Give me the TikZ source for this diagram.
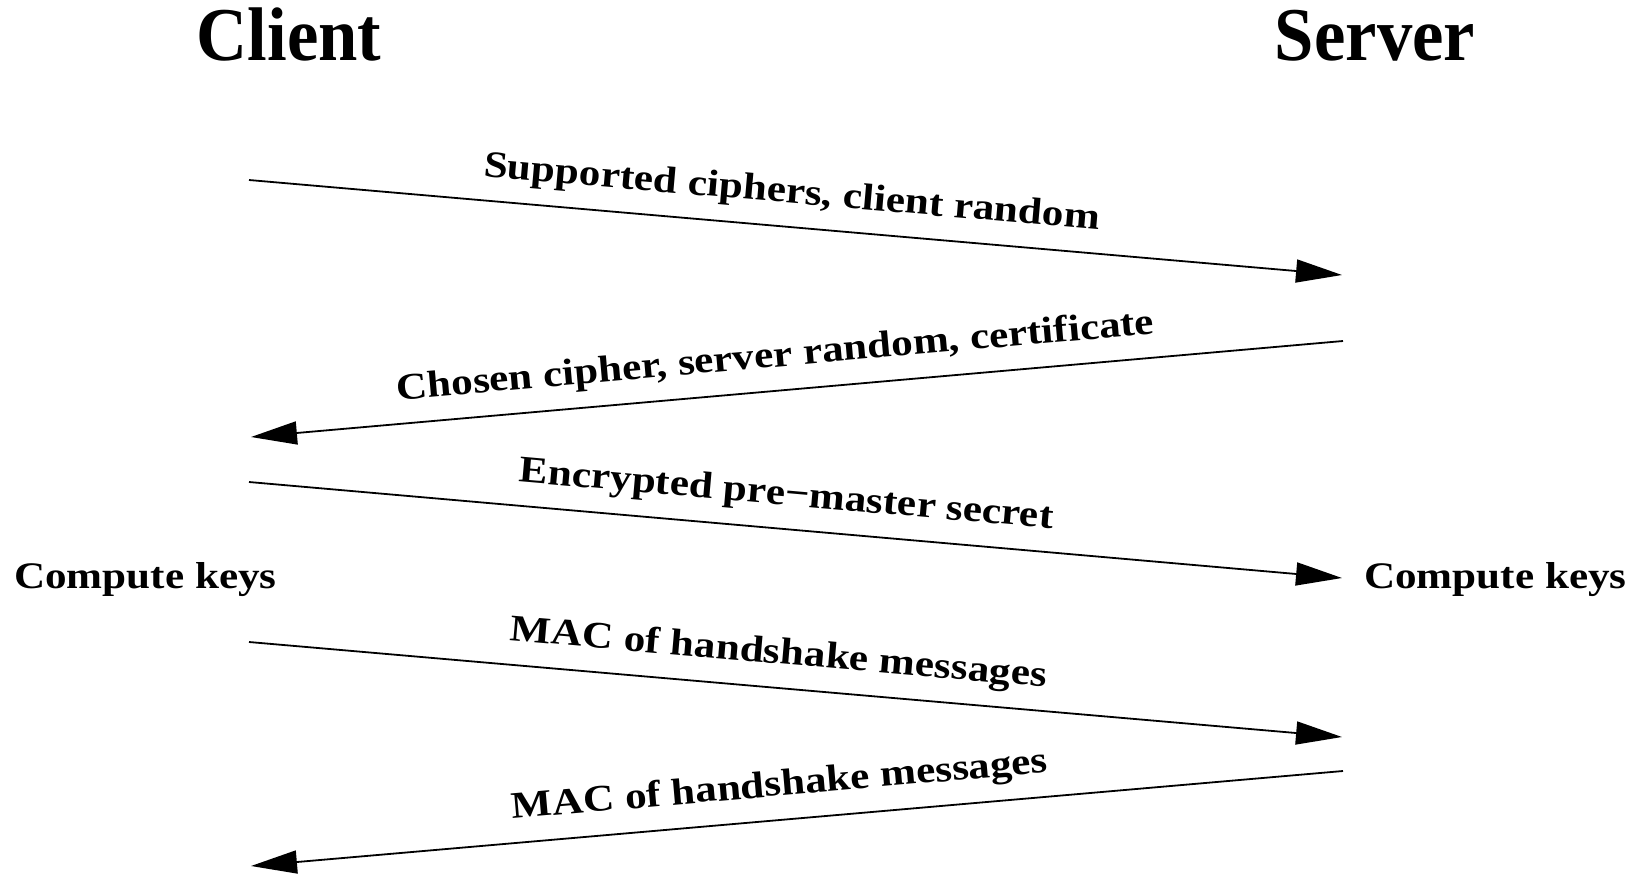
\documentclass[tikz,border=0pt]{standalone}
\usepackage{fontspec}
\setmainfont{Liberation Serif}
\newfontfamily\widefont[FakeStretch=1.15]{Liberation Serif}
\newfontfamily\titlefont[FakeStretch=0.93]{Liberation Serif}
\usetikzlibrary{arrows.meta}
\begin{document}
\begin{tikzpicture}[x=1pt,y=-1pt,
  msg/.style={line width=1.8pt,-{Triangle[length=46pt,width=23pt]}},
  title/.style={inner sep=0,anchor=base,font=\titlefont\fontsize{76}{80}\selectfont\bfseries},
  lab/.style={inner sep=0,font=\widefont\fontsize{37.5}{42}\selectfont\bfseries},
  mlab/.style={lab,sloped,above=15pt}]
\useasboundingbox (0,0) rectangle (1638,876);
\node[title] (client) at (289,60) {Client};
\node[title] (server) at (1375,60) {Server};
\node[lab,anchor=base west] (ckc) at (14,588) {Compute keys};
\node[lab,anchor=base west] (cks) at (1364,588) {Compute keys};
\coordinate (a1s) at (249,180);   \coordinate (a1e) at (1342,275);
\coordinate (a2s) at (1343,341);  \coordinate (a2e) at (251,437);
\coordinate (a3s) at (249,482);   \coordinate (a3e) at (1342,578);
\coordinate (a4s) at (249,642);   \coordinate (a4e) at (1342,737);
\coordinate (a5s) at (1343,771);  \coordinate (a5e) at (251,866);
\draw[msg] (a1s) -- node[mlab,pos=0.494] (l1) {Supported ciphers, client random} (a1e);
\draw[msg] (a2s) -- node[mlab,pos=0.517] (l2) {Chosen cipher, server random, certificate} (a2e);
\draw[msg] (a3s) -- node[mlab,pos=0.489] (l3) {Encrypted pre−master secret} (a3e);
\draw[msg] (a4s) -- node[mlab,pos=0.482] (l4) {MAC of handshake messages} (a4e);
\draw[msg] (a5s) -- node[mlab,pos=0.513] (l5) {MAC of handshake messages} (a5e);
\end{tikzpicture}
\end{document}
